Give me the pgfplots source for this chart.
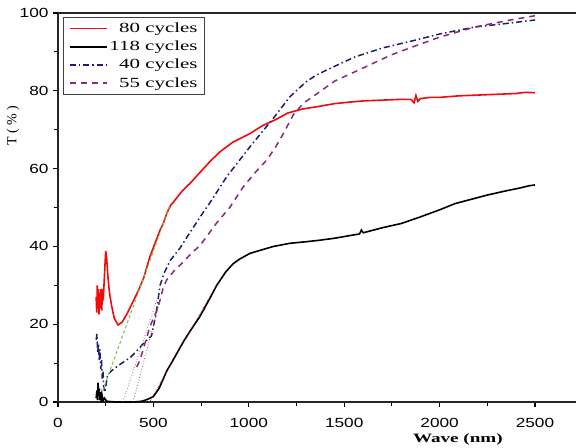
\documentclass[border=0pt]{standalone}
\usepackage{pgfplots}
\pgfplotsset{compat=1.18}
\usepackage{fontspec}
\setmainfont{Liberation Serif}
\newfontfamily\legfont{Liberation Serif}[FakeStretch=1.5]
\newfontfamily\tickfont{Liberation Sans}[FakeStretch=1.3]
\definecolor{cred}{RGB}{240,10,10}
\definecolor{cnavy}{RGB}{25,30,110}
\definecolor{cpurp}{RGB}{140,40,120}
\definecolor{cgreen}{RGB}{120,190,70}
\begin{document}
\begin{tikzpicture}
\begin{axis}[
  scale only axis, width=518bp, height=389bp,
  xmin=0, xmax=2715, ymin=0, ymax=100,
  axis x line*=bottom, axis y line*=left,
  axis line style={-, line width=1.4bp, black!85},
  xtick={0,500,1000,1500,2000,2500}, ytick={0,20,40,60,80,100},
  minor x tick num=1, minor y tick num=1,
  tick align=outside, major tick length=5bp, minor tick length=3.5bp,
  every tick/.style={line width=1.1bp, black},
  /pgf/number format/assume math mode=true,
  /pgf/number format/1000 sep={},
  ticklabel style={font=\tickfont\fontsize{13.3}{15}\selectfont},
  xticklabel style={yshift=-8bp},
  yticklabel style={xshift=-1bp},
  xlabel={Wave (nm)},
  xlabel style={font=\legfont\bfseries\fontsize{12.8}{14}\selectfont,
    at={(axis description cs:0.772,-0.095)}, anchor=center},
  ylabel={\fontsize{14}{16}\selectfont T ( \% )},
  ylabel style={at={(axis description cs:-0.087,0.71)}, anchor=center},
  clip mode=individual,
  legend style={at={(axis description cs:0.0097,0.99)}, anchor=north west,
    draw=black!75, line width=1.2bp, inner xsep=5bp, inner ysep=3.5bp,
    font=\legfont\fontsize{14}{14.5}\selectfont, row sep=3bp},
  legend cell align=right,
  legend image code/.code={\draw[#1, line width=1.8bp] (0bp,0bp) -- (37bp,0bp);},
]
\addplot[cred, line width=1.6bp] coordinates {
(200,27) (203,23) (206,30) (209,24) (212,29) (215,22.5) (218,28) (221,24) (225,29) (229,23.5) (233,28) (238,27)
(245,34) (250,38.8) (255,37) (262,32) (270,28) (282,24.5) (295,21.5) (315,19.8) (335,20.5) (360,22.5)
(390,25.5) (420,28.5) (450,32) (482,37.4) (510,41) (535,44.2) (552,45.9) (570,48.5) (590,50.5) (613,51.9)
(650,54.2) (692,56.2) (744,59) (800,62) (849,64.3) (917,66.8) (1006,69) (1070,71) (1137,72.5) (1205,74.3)
(1280,75.3) (1356,75.9) (1450,76.7) (1530,77.1) (1600,77.4) (1700,77.6)
(1800,77.8) (1850,77.8) (1866,76.9) (1876,78.8) (1886,77.3) (1900,78) (1950,78.3) (2000,78.3) (2100,78.7) (2200,78.9) (2300,79.1) (2400,79.3) (2450,79.6) (2500,79.5)};
\addlegendentry{80 cycles}
\addplot[black, line width=1.6bp] coordinates {
(200,1) (204,3) (207,0.5) (210,5) (213,1.5) (216,3.5) (219,0.5) (222,2.5) (226,0.5) (230,2) (236,0.3) (244,1) (255,0.2)
(300,0) (400,0) (440,0.2) (470,0.7) (500,1.4) (530,3.5) (570,8) (600,10.5) (657,15.5) (700,18.8) (744,22)
(800,27) (832,30) (880,33.5) (919,35.6) (954,36.8) (1006,38.2) (1060,39) (1130,40) (1216,40.8) (1300,41.2)
(1373,41.6) (1450,42.1) (1520,42.7) (1580,43.2) (1590,44.2) (1600,43.5) (1700,44.8) (1800,45.9) (1900,47.6)
(2000,49.4) (2081,51) (2150,51.9) (2250,53.2) (2350,54.3) (2420,55) (2470,55.6) (2500,55.8)};
\addlegendentry{118 cycles}
\addplot[cnavy, line width=1.5bp, dash pattern=on 6bp off 3bp on 1.5bp off 3bp] coordinates {
(200,16) (204,17.5) (208,12.5) (212,15) (216,10.5) (220,13.5) (224,8.5) (228,11) (232,6) (236,8) (240,3.5)
(246,2.5) (252,4.5) (260,7) (280,8) (320,9.5) (380,11.5) (420,13.5) (450,15.2) (490,17) (515,23) (535,30)
(555,33) (587,36.3) (640,39.6) (700,44.2) (744,47.5) (800,51.5) (884,57.9) (1006,65.6) (1128,72.9)
(1216,78.5) (1300,82.3) (1356,84.1) (1450,86.3) (1556,88.7) (1700,91) (1871,93) (2000,94.6) (2185,96.4)
(2350,97.3) (2500,98.2)};
\addlegendentry{40 cycles}
\addplot[cpurp, line width=1.5bp, dash pattern=on 6bp off 5bp] coordinates {
(413,9) (430,10.8) (482,19.4) (518,23.5) (535,26.2) (552,29.5) (570,31.4) (610,33.8) (657,36) (700,38.3)
(744,40.2) (831,46) (900,50) (971,55.3) (1030,58.8) (1094,62.2) (1140,65.5) (1181,69) (1233,73.8)
(1286,76.8) (1356,79.2) (1450,82.5) (1530,84.3) (1640,86.8) (1750,89.3) (1871,91.5) (2000,93.8)
(2185,96.4) (2350,98) (2500,99.3)};
\addlegendentry{55 cycles}
\addplot[cgreen, line width=1bp, dash pattern=on 3bp off 2.5bp, forget plot] coordinates {(235,3) (590,51)};
\addplot[gray, line width=0.8bp, dotted, forget plot] coordinates {(340,0) (530,28)};
\addplot[gray!80!black, line width=0.8bp, dotted, forget plot] coordinates {(393,0) (540,27)};
\addplot[red!60!black, line width=0.6bp, densely dotted, forget plot] coordinates {(480,0) (830,30)};
\draw[line width=1.4bp, black!85] (rel axis cs:0,1) -- (rel axis cs:1,1);
\end{axis}
\pgfresetboundingbox
\path (-58bp,-46bp) rectangle (518bp,402bp);
\end{tikzpicture}
\end{document}
